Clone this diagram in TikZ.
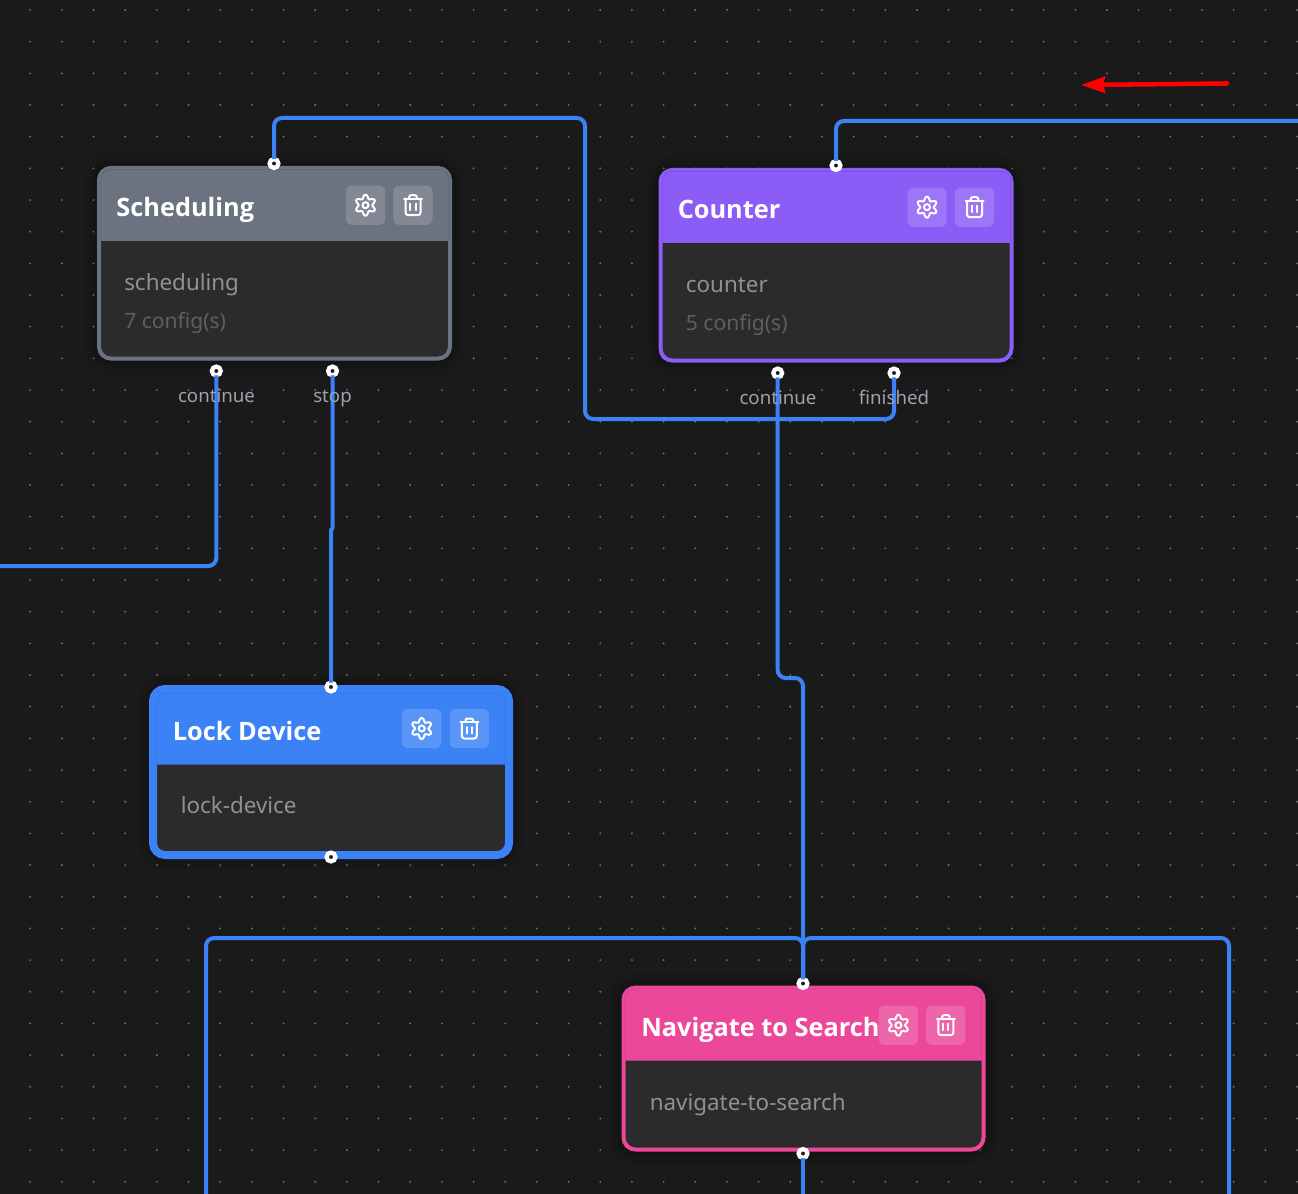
\documentclass[tikz,border=0pt]{standalone}
\usepackage{fontspec}
\usepackage{xcolor}
\usetikzlibrary{arrows.meta}
\setmainfont{Noto Sans}
\newfontfamily\cardheadfont{Open Sans}

\definecolor{canvasbg}{HTML}{1A1A1A}
\definecolor{griddot}{HTML}{707070}
\definecolor{cardbg}{HTML}{2B2B2B}
\definecolor{wireblue}{HTML}{3B82F6}
\definecolor{schedgrey}{HTML}{6B7280}
\definecolor{countviolet}{HTML}{8B5CF6}
\definecolor{lockblue}{HTML}{3B82F6}
\definecolor{navpink}{HTML}{EC4899}
\definecolor{slugtext}{HTML}{919191}
\definecolor{counttext}{HTML}{5F5F5F}
\definecolor{labeltext}{HTML}{9CA3AF}

\tikzset{
  cardbox/.style={draw, fill=cardbg, rounded corners=9pt, line width=3pt, inner sep=0pt, outer sep=0pt,
    preaction={draw=black, fill=none, draw opacity=0.05, line width=22pt},
    preaction={draw=black, fill=none, draw opacity=0.05, line width=14pt},
    preaction={draw=black, fill=none, draw opacity=0.05, line width=8pt}},
  headline/.style={draw=black, draw opacity=0.09, line width=0.6pt},
  portdot/.style={circle, draw=white, fill=canvasbg, line width=3.2pt, minimum size=6.6pt, inner sep=0pt, outer sep=0pt},
  wire/.style={draw=wireblue, line width=3pt, rounded corners=6pt},
  iconbtn/.style={fill=white, fill opacity=0.16, rounded corners=4.5pt, minimum size=29.5pt, inner sep=0pt},
  cardtitle/.style={anchor=base west, inner sep=0pt, text=white, font=\cardheadfont\bfseries\fontsize{19}{24}\selectfont},
  cardslug/.style={anchor=base west, inner sep=0pt, text=slugtext, font=\fontsize{16.8}{20}\selectfont},
  cardcount/.style={anchor=base west, inner sep=0pt, text=counttext, font=\fontsize{15.8}{19}\selectfont},
  portlabel/.style={anchor=base, inner sep=0pt, text=labeltext, font=\fontsize{14}{17}\selectfont},
  gearicon/.pic={
    \draw[white, line width=1.5pt, line join=round] plot[domain=0:360, samples=73, smooth] ({(8.6-1.9*cos(6*\x))*cos(\x)}, {(8.6-1.9*cos(6*\x))*sin(\x)}) -- cycle;
    \draw[white, line width=1.5pt] (0,0) circle[radius=3];
  },
  trashicon/.pic={
    \draw[white, line width=1.5pt, line cap=round] (-9,6.5) -- (9,6.5);
    \draw[white, line width=1.5pt, line cap=round, rounded corners=2pt] (-7.5,6.5) -- (-7.5,-10) -- (7.5,-10) -- (7.5,6.5);
    \draw[white, line width=1.5pt, line cap=round, rounded corners=1.5pt] (-3.8,6.5) -- (-3.8,10) -- (3.8,10) -- (3.8,6.5);
    \draw[white, line width=1.5pt, line cap=round] (-2.6,1.5) -- (-2.6,-5) (2.6,1.5) -- (2.6,-5);
  },
}

\begin{document}
\begin{tikzpicture}[x=0.75pt,y=0.75pt,yscale=-1,xscale=1]
\useasboundingbox (0,0) rectangle (1298,1194);
\fill[canvasbg] (0,0) rectangle (1298,1194);

% dotted canvas
\foreach \i in {0,...,40}
  \foreach \j in {0,...,37}
    \fill[griddot] ({30.2+31.67*\i},{10+31.67*\j}) circle[radius=1.05];

% Scheduling
\node[cardbox, draw=schedgrey, minimum width=263.25pt, minimum height=143pt] (schedCard) at (274.5,263.25) {};
\fill[schedgrey] (99,241) [rounded corners=9pt] -- (99,168) -- (450,168) [sharp corners] -- (450,241) -- cycle;
\draw[headline] (101,241) [rounded corners=7pt] -- (101,169.5) -- (449,169.5) [sharp corners] -- (449,241);
\node[iconbtn] (schedGear) at (365.5,205.2) {};
\node[iconbtn] (schedTrash) at (413,205.2) {};
\pic at (schedGear) {gearicon};
\pic at (schedTrash) {trashicon};
\node[cardtitle] (schedTitle) at (116.2,216.7) {Scheduling};
\node[cardslug] (schedSlug) at (124,291) {scheduling};
\node[cardcount] (schedCount) at (124,328.5) {7 config(s)};
\node[portdot] (schedTop) at (274,163.5) {};
\node[portdot] (schedContinue) at (216.3,371) {};
\node[portdot] (schedStop) at (332.5,371) {};

% Counter
\node[cardbox, draw=countviolet, minimum width=263.25pt, minimum height=143pt] (countCard) at (836,265.25) {};
\fill[countviolet] (661,243) [rounded corners=9pt] -- (661,170) -- (1012,170) [sharp corners] -- (1012,243) -- cycle;
\draw[headline] (662.7,243) [rounded corners=7pt] -- (662.7,171.5) -- (1010.7,171.5) [sharp corners] -- (1010.7,243);
\node[iconbtn] (countGear) at (927,207.2) {};
\node[iconbtn] (countTrash) at (974.5,207.2) {};
\pic at (countGear) {gearicon};
\pic at (countTrash) {trashicon};
\node[cardtitle] (countTitle) at (677.5,218.7) {Counter};
\node[cardslug] (countSlug) at (685.6,293) {counter};
\node[cardcount] (countCount) at (685.6,330.5) {5 config(s)};
\node[portdot] (countTop) at (836,165.5) {};
\node[portdot] (countContinue) at (777.7,373) {};
\node[portdot] (countFinished) at (894,373) {};

% Lock Device
\node[cardbox, draw=lockblue, line width=6pt, rounded corners=9pt, minimum width=267pt, minimum height=124.5pt] (lockCard) at (331,772) {};
\fill[lockblue] (155,764.5) [rounded corners=7.5pt] -- (155,690) -- (507,690) [sharp corners] -- (507,764.5) -- cycle;
\draw[headline] (156.7,764.5) [rounded corners=7pt] -- (156.7,693.3) -- (505,693.3) [sharp corners] -- (505,764.5);
\node[iconbtn] (lockGear) at (421.7,728.5) {};
\node[iconbtn] (lockTrash) at (469.3,728.5) {};
\pic at (lockGear) {gearicon};
\pic at (lockTrash) {trashicon};
\node[cardtitle] (lockTitle) at (172.5,740.5) {Lock Device};
\node[cardslug] (lockSlug) at (180.5,813) {lock-device};
\node[portdot] (lockTop) at (331,687) {};
\node[portdot] (lockBottom) at (331,857) {};

% Navigate to Search
\node[cardbox, draw=navpink, minimum width=270pt, minimum height=121.5pt] (navCard) at (803.5,1068.5) {};
\fill[navpink] (623.5,1060.7) [rounded corners=9pt] -- (623.5,987.5) -- (983.5,987.5) [sharp corners] -- (983.5,1060.7) -- cycle;
\draw[headline] (625.5,1060.7) [rounded corners=7pt] -- (625.5,989) -- (981.5,989) [sharp corners] -- (981.5,1060.7);
\node[iconbtn] (navGear) at (898.4,1025.2) {};
\node[iconbtn] (navTrash) at (945.8,1025.2) {};
\pic at (navGear) {gearicon};
\pic at (navTrash) {trashicon};
\node[cardtitle] (navTitle) at (641,1036.7) {Navigate to Search};
\node[cardslug] (navSlug) at (649.5,1110) {navigate-to-search};
\node[portdot] (navTop) at (803,983.5) {};
\node[portdot] (navBottom) at (803,1153.5) {};

% free ends
\coordinate (offRight) at (1298,121);
\coordinate (offLeft) at (0,566);
\coordinate (offLoopL) at (206,1194);
\coordinate (offLoopR) at (1229,1194);
\coordinate (offBottom) at (803,1194);
\coordinate (arrowFrom) at (1227,83.5);
\coordinate (arrowTo) at (1081,85);

% connectors
\draw[wire] (countFinished) -- (894,419) -- (585,419) -- (585,118) -- (274,118) -- (schedTop);
\draw[wire] (countTop) -- (836,121) -- (offRight);
\draw[wire] (schedContinue) -- (216.3,566) -- (offLeft);
\draw[wire, sharp corners, line join=round] (schedStop) -- (332.5,528) -- (331,530) -- (lockTop);
\draw[wire] (countContinue) -- (777.7,678) -- (803,678) -- (navTop);
\draw[wire] (offLoopL) -- (206,938) -- (803,938) -- (navTop);
\draw[wire] (offLoopR) -- (1229,938) -- (803,938) -- (navTop);
\draw[wire, sharp corners] (navBottom) -- (offBottom);
\draw[draw=red, line width=3.4pt, line cap=round, -{Stealth[length=18pt, width=12pt, inset=1.5pt]}] (arrowFrom) -- (arrowTo);

% port labels
\node[portlabel] (schedContinueText) at (216.5,402.5) {continue};
\node[portlabel] (schedStopText) at (332.5,402.5) {stop};
\node[portlabel] (countContinueText) at (778,404.5) {continue};
\node[portlabel] (countFinishedText) at (894,404.5) {finished};

\end{tikzpicture}
\end{document}
